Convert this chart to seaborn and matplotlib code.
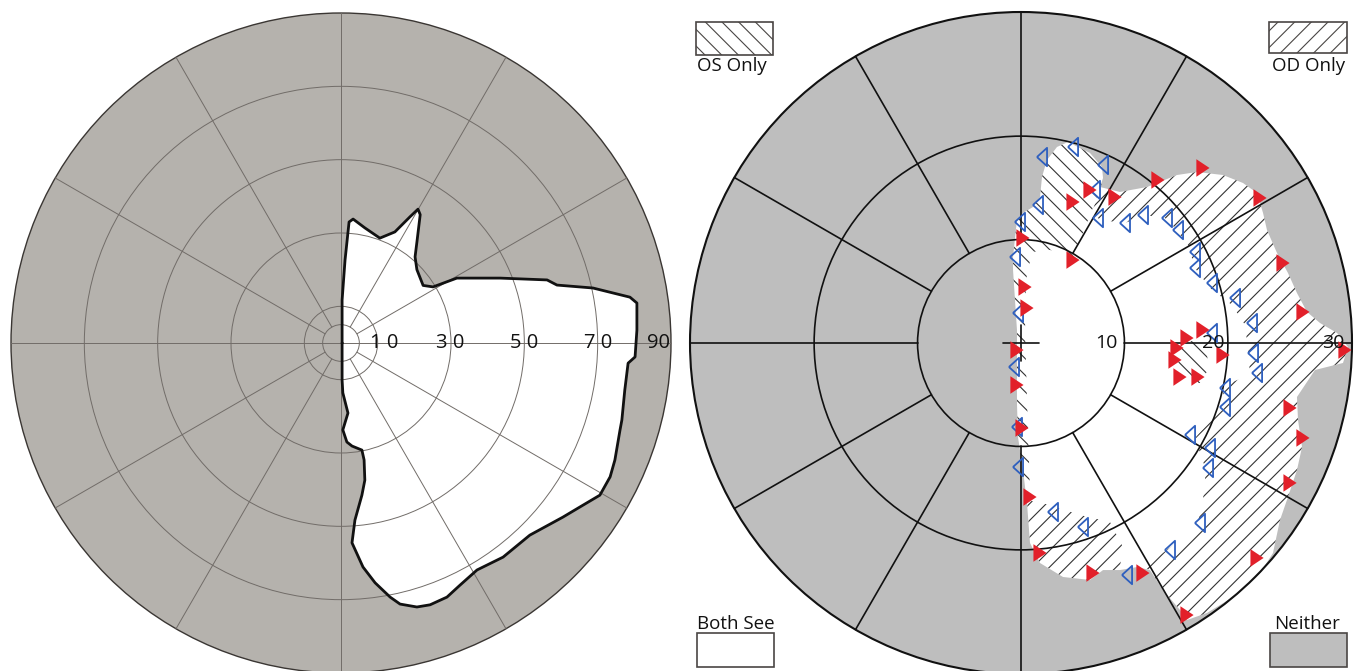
import numpy as np
import matplotlib
matplotlib.use("Agg")
import matplotlib.pyplot as plt
from matplotlib.patches import Circle, Polygon, Rectangle
import seaborn as sns

# ------------------------------------------------------------------ data
# Left panel: binocular field outline, (horizontal deg, vertical deg)
left_field = [
    (0.3, 0.0), (0.3, 11.7), (1.1, 22.6), (2.2, 33.0), (3.3, 33.8), (6.5, 31.4),
    (10.6, 28.6), (14.7, 30.3), (18.8, 34.4), (21.0, 36.5), (21.6, 35.0),
    (20.7, 27.5), (20.2, 23.5), (20.7, 20.0), (22.4, 15.7), (25.1, 15.3),
    (31.6, 17.7), (43.4, 17.7), (56.2, 17.2), (58.9, 15.8), (68.7, 15.0),
    (78.8, 12.5), (80.7, 10.9), (80.7, 3.5), (80.2, -3.8), (78.3, -5.5),
    (77.4, -12.8), (76.6, -21.0), (76.1, -23.7), (74.7, -31.9), (73.4, -36.5),
    (70.6, -41.5), (65.2, -44.7), (60.5, -47.5), (51.5, -52.4), (44.2, -58.4),
    (37.1, -61.9), (32.5, -66.0), (28.9, -69.3), (24.3, -71.4), (20.7, -72.0),
    (16.1, -71.2), (13.4, -69.3), (9.3, -65.4), (6.0, -61.1), (3.0, -54.5),
    (3.8, -48.3), (5.7, -41.5), (6.5, -37.4), (6.3, -31.9), (5.7, -29.2),
    (3.0, -28.1), (1.6, -27.0), (0.5, -23.7), (1.9, -19.1), (0.5, -13.6),
    (0.3, -10.1),
]
left_rings = [5, 10, 30, 50, 70]
left_outer = 90
left_labels = ["1 0", "3 0", "5 0", "7 0", "90"]
left_label_pos = [11.9, 29.7, 50.0, 70.0, 86.7]

spoke_angles = [0, 30, 60, 90, 120, 150, 180, 210, 240, 270, 300, 330]

# Right panel: regions (horizontal deg, vertical deg)
seen_region = [
    (-0.39, 11.89), (0.19, 12.57), (1.16, 13.15), (1.84, 14.11), (2.03, 16.05),
    (2.51, 17.69), (3.48, 18.95), (4.54, 19.43), (6.67, 18.37), (7.83, 17.01),
    (7.93, 15.95), (7.64, 15.08), (9.57, 14.60), (12.18, 15.08), (15.08, 16.24),
    (17.01, 16.53), (19.53, 16.24), (21.46, 15.47), (22.82, 14.50), (23.40, 12.57),
    (23.78, 10.92), (24.75, 8.70), (25.81, 6.77), (26.68, 4.83), (27.65, 3.00),
    (28.91, 1.93), (30.55, 0.97), (31.61, -0.39), (31.13, -1.93), (28.42, -2.61),
    (26.68, -5.22), (26.78, -7.44), (27.17, -10.05), (26.68, -12.28), (25.81, -14.89),
    (25.04, -17.11), (24.36, -20.30), (23.11, -22.24), (20.50, -24.56), (17.98, -26.10),
    (16.05, -26.78), (15.37, -25.81), (13.73, -23.88), (12.47, -21.95), (11.21, -21.66),
    (9.57, -21.95), (7.93, -21.95), (6.67, -22.91), (4.06, -22.62), (1.84, -21.27),
    (0.87, -19.33), (0.58, -15.47), (0.19, -12.28), (-0.29, -9.09), (-0.39, -5.80),
    (-0.39, -2.61), (-0.39, 1.26), (-0.77, 7.06), (-0.77, 8.31),
]
os_only_upper = [
    (-0.39, 11.89), (0.19, 12.57), (1.16, 13.15), (1.84, 14.11), (2.03, 16.05),
    (2.51, 17.69), (3.48, 18.95), (4.54, 19.43), (6.67, 18.37), (7.83, 17.01),
    (7.93, 15.95), (7.64, 14.79), (6.67, 12.37), (5.03, 8.22), (2.80, 9.00),
    (1.06, 8.80), (0.48, 6.09), (0.39, 1.26), (0.58, -5.51), (0.77, -11.31),
    (0.87, -14.70), (0.58, -15.47), (0.19, -12.28), (-0.29, -9.09), (-0.39, -5.80),
    (-0.39, -2.61), (-0.39, 1.26), (-0.77, 7.06), (-0.77, 8.31),
]
os_only_spot = [
    (15.37, -0.19), (16.82, 0.29), (17.98, -0.68), (18.08, -2.61),
    (17.30, -3.87), (15.85, -3.87), (15.18, -2.13),
]
od_only_band = [
    (7.64, 14.79), (9.57, 14.60), (12.18, 15.08), (15.08, 16.24), (17.01, 16.53),
    (19.53, 16.24), (21.46, 15.47), (22.82, 14.50), (23.40, 12.57), (23.78, 10.92),
    (24.75, 8.70), (25.81, 6.77), (26.68, 4.83), (27.65, 3.00), (28.91, 1.93),
    (30.55, 0.97), (31.61, -0.39), (31.13, -1.93), (28.42, -2.61), (26.68, -5.22),
    (26.78, -7.44), (27.17, -10.05), (26.68, -12.28), (25.81, -14.89), (25.04, -17.11),
    (24.36, -20.30), (23.11, -22.24), (20.50, -24.56), (17.98, -26.10), (16.05, -26.78),
    (15.37, -25.81), (13.73, -23.88), (12.47, -21.95), (11.50, -21.56), (13.44, -20.50),
    (15.37, -19.04), (17.11, -17.30), (17.59, -15.18), (17.88, -12.28), (16.82, -9.18),
    (19.24, -6.48), (19.72, -4.06), (22.14, -3.09), (21.95, -0.68), (21.66, 1.74),
    (20.40, 3.67), (18.27, 5.32), (16.82, 7.25), (16.14, 9.47), (14.89, 11.12),
    (13.92, 12.08), (11.99, 12.37), (10.05, 11.60), (7.64, 11.89), (6.86, 12.66),
]
od_only_lower = [
    (0.58, -15.18), (2.80, -15.66), (5.70, -16.63), (8.60, -17.30), (9.76, -19.53),
    (9.57, -21.95), (7.93, -21.95), (6.67, -22.91), (4.06, -22.62), (1.84, -21.27),
    (0.87, -19.33),
]

# Right panel: OD (red, filled) and OS (blue, open) test points
od_x = [9.09, 6.67, 5.03, 13.24, 17.59, 23.11, 25.33, 27.26, 31.32, 5.03, 0.19, 0.39,
        0.58, -0.39, 16.05, 17.59, 15.08, 14.89, 19.53, 15.37, 17.11, -0.39, 0.10,
        0.87, 1.84, 6.96, 11.79, 16.05, 22.82, 26.01, 27.26, 26.01]
od_y = [14.11, 14.79, 13.63, 15.76, 16.92, 14.02, 7.73, 3.00, -0.68, 8.02, 10.15, 5.41,
        3.38, -0.68, 0.48, 1.26, -0.48, -1.64, -1.16, -3.29, -3.29, -4.06, -8.22,
        -14.89, -20.30, -22.24, -22.24, -26.30, -20.78, -6.28, -9.18, -13.53]
os_x = [5.03, 2.03, 7.93, 7.15, 1.64, -0.10, 7.44, 10.05, 11.79, 14.11, 15.18, -0.58,
        16.82, 16.82, 18.46, 20.69, -0.29, 22.33, 18.46, -0.68, 22.43, 22.82, 19.72,
        19.72, 16.34, 18.27, 18.08, 17.30, 14.40, 10.25, 5.99, 3.09, -0.29, -0.39]
os_y = [18.95, 17.98, 17.21, 14.79, 13.34, 11.70, 12.08, 11.60, 12.37, 12.08, 10.92, 8.31,
        8.80, 7.25, 5.80, 4.35, 2.90, 1.93, 0.97, -2.32, -0.97, -2.90, -4.35,
        -6.19, -8.89, -10.15, -12.08, -17.40, -20.01, -22.43, -17.79, -16.34, -11.99, -8.12]

right_rings = [10, 20]
right_outer = 32
right_labels = ["10", "20", "30"]
right_label_pos = [8.3, 18.6, 30.2]
legend_labels = ["OS Only", "OD Only", "Both See", "Neither"]

# ------------------------------------------------------------------ style
sns.set_theme(style="white")
plt.rcParams["font.family"] = ["Open Sans", "DejaVu Sans"]
plt.rcParams["hatch.linewidth"] = 0.8

GRAY_L = "#b5b2ad"
GRID_L = "#716c68"
GRAY_R = "#bebebe"
RED = "#e2202a"
BLUE = "#2e5fbe"
HATCH_OS = "\\\\"
HATCH_OD = "//"

W, H = 1363, 671
fig = plt.figure(figsize=(W / 100, H / 100), dpi=100)
fig.patch.set_facecolor("white")

def polar_xy(angle_deg, r):
    a = np.deg2rad(angle_deg)
    return r * np.cos(a), r * np.sin(a)

# ------------------------------------------------------------------ left panel
sL = 330 / 90.0
axL = fig.add_axes([0, 0, 682 / W, 1])
axL.set_xlim(-341 / sL, (682 - 341) / sL)
axL.set_ylim((343 - H) / sL, 343 / sL)
axL.set_axis_off()

axL.add_patch(Circle((0, 0), left_outer, facecolor=GRAY_L, edgecolor="#3a3633",
                     lw=1.0, zorder=0))
axL.add_patch(Polygon(np.array(left_field), closed=True, facecolor="white",
                      edgecolor="none", zorder=1))
for r in left_rings:
    axL.add_patch(Circle((0, 0), r, fill=False, edgecolor=GRID_L, lw=0.7, zorder=2))
for a in spoke_angles:
    r0 = 0 if a % 90 == 0 else left_rings[0]
    x0, y0 = polar_xy(a, r0)
    x1, y1 = polar_xy(a, left_outer)
    axL.plot([x0, x1], [y0, y1], color=GRID_L, lw=0.7, zorder=2)
pts = np.array(left_field + [left_field[0]])
axL.plot(pts[:, 0], pts[:, 1], color="#111111", lw=2.0, zorder=3,
         solid_joinstyle="round")
for lab, xp in zip(left_labels, left_label_pos):
    axL.text(xp, 0, lab, ha="center", va="center", fontsize=14.5, color="#111111",
             zorder=4)

# ------------------------------------------------------------------ right panel
sR = 331 / 32.0
axR = fig.add_axes([682 / W, 0, 681 / W, 1])
axR.set_xlim((682 - 1021) / sR, (W - 1021) / sR)
axR.set_ylim((343 - H) / sR, 343 / sR)
axR.set_axis_off()

axR.add_patch(Circle((0, 0), right_outer, facecolor=GRAY_R, edgecolor="none", zorder=0))
axR.add_patch(Polygon(np.array(seen_region), closed=True, facecolor="white",
                      edgecolor="none", zorder=1))
for poly in (os_only_upper, os_only_spot):
    axR.add_patch(Polygon(np.array(poly), closed=True, facecolor="none",
                          edgecolor="#333333", lw=0, hatch=HATCH_OS, zorder=2))
for poly in (od_only_band, od_only_lower):
    axR.add_patch(Polygon(np.array(poly), closed=True, facecolor="none",
                          edgecolor="#333333", lw=0, hatch=HATCH_OD, zorder=2))

for r in right_rings:
    axR.add_patch(Circle((0, 0), r, fill=False, edgecolor="#111111", lw=1.2, zorder=3))
axR.add_patch(Circle((0, 0), right_outer, fill=False, edgecolor="#111111", lw=1.5, zorder=3))
for a in spoke_angles:
    x0, y0 = polar_xy(a, right_rings[0])
    x1, y1 = polar_xy(a, right_outer)
    axR.plot([x0, x1], [y0, y1], color="#111111", lw=1.2, zorder=3)
cross = 1.7
axR.plot([-cross, cross], [0, 0], color="#111111", lw=1.2, zorder=3)
axR.plot([0, 0], [-cross, cross], color="#111111", lw=1.2, zorder=3)

red_marker = [(0.75, 0.0), (-0.75, 1.0), (-0.75, -1.0), (0.75, 0.0)]
blue_marker = [(-0.55, 0.0), (0.55, 1.0), (0.55, -1.0), (-0.55, 0.0)]
sns.scatterplot(x=os_x, y=os_y, ax=axR, marker=blue_marker, s=175,
                facecolor="none", edgecolor=BLUE, linewidth=1.3, zorder=4,
                legend=False)
sns.scatterplot(x=od_x, y=od_y, ax=axR, marker=red_marker, s=160,
                color=RED, edgecolor="none", linewidth=0, zorder=5, legend=False)

for lab, xp in zip(right_labels, right_label_pos):
    axR.text(xp, 0, lab, ha="center", va="center", fontsize=14, color="#111111",
             zorder=6)

# ------------------------------------------------------------------ legend boxes
def fig_rect(x0, y0, x1, y1, **kw):
    fig.add_artist(Rectangle((x0 / W, 1 - y1 / H), (x1 - x0) / W, (y1 - y0) / H,
                             transform=fig.transFigure, **kw))

box_kw = dict(edgecolor="#4a4644", lw=1.2)
fig_rect(696, 22, 773, 55, facecolor="white", hatch=HATCH_OS, **box_kw)
fig_rect(1269, 22, 1347, 53, facecolor="white", hatch=HATCH_OD, **box_kw)
fig_rect(697, 633, 774, 667, facecolor="white", **box_kw)
fig_rect(1270, 633, 1347, 667, facecolor=GRAY_R, **box_kw)

txt_kw = dict(fontsize=13.5, color="#111111", va="center", transform=fig.transFigure)
fig.text(697 / W, 1 - 66 / H, legend_labels[0], ha="left", **txt_kw)
fig.text(1309 / W, 1 - 66 / H, legend_labels[1], ha="center", **txt_kw)
fig.text(697 / W, 1 - 624 / H, legend_labels[2], ha="left", **txt_kw)
fig.text(1307 / W, 1 - 624 / H, legend_labels[3], ha="center", **txt_kw)

fig.savefig("out.png", dpi=100, facecolor="white")
